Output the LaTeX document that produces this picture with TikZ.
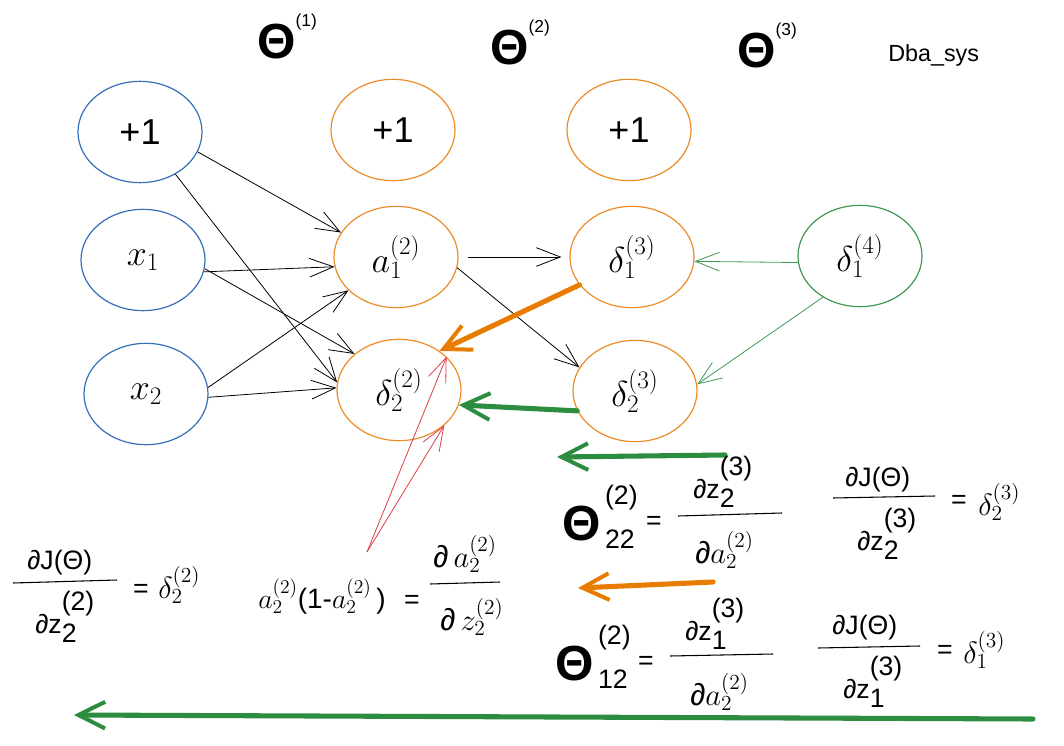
\documentclass[tikz,border=0pt]{standalone}
\usepackage{fix-cm}
\usepackage{fontspec}
\setmainfont{Liberation Sans}
\usetikzlibrary{arrows.meta,shapes.geometric}
\definecolor{inblue}{RGB}{52,112,186}
\definecolor{hidorange}{RGB}{236,140,40}
\definecolor{bporange}{RGB}{232,124,0}
\definecolor{outgreen}{RGB}{64,152,84}
\definecolor{bpgreen}{RGB}{44,140,64}
\definecolor{gradred}{RGB}{222,60,70}
\newcommand{\zz}[3]{#1\rlap{\raisebox{17pt}{#2}}\raisebox{-7pt}{#3}}
\newcommand{\thetaidx}[2]{{\fontsize{37}{37}\selectfont\bfseries Θ}\,\rlap{\raisebox{27pt}{#1}}\raisebox{-6pt}{#2}}
\newcommand{\layertheta}[1]{{\fontsize{37}{37}\selectfont\bfseries Θ}\raisebox{24pt}{\fontsize{13}{13}\selectfont(#1)}}

\begin{document}
\begin{tikzpicture}[
  x=0.75pt, y=-0.75pt,
  neuron/.style={ellipse, draw, line width=0.9pt, minimum width=93pt, minimum height=76pt, inner sep=0pt, font=\fontsize{27}{27}\selectfont},
  conn/.style={-{Straight Barb[length=18pt,width=14pt]}, line width=0.6pt},
  bp/.style={-{Straight Barb[length=20pt,width=20pt,line width=3pt]}, line width=3.8pt, line cap=round},
  ftxt/.style={font=\fontsize{20}{20}\selectfont, inner sep=0pt},
  hw/.style={font=\fontsize{23}{23}\selectfont, inner sep=0pt},
  fbar/.style={line width=0.8pt}
]
\useasboundingbox (0,0) rectangle (1064,746);

\node[ftxt, anchor=base west] (th1) at (257,58) {\layertheta{1}};
\node[ftxt, anchor=base west] (th2) at (490,64) {\layertheta{2}};
\node[ftxt, anchor=base west] (th3) at (737,67) {\layertheta{3}};
\node[anchor=base west, inner sep=0pt, font=\fontsize{17.5}{17.5}\selectfont] (tag) at (888,61) {Dba\_sys};

\node[neuron, draw=inblue] (in1) at (140,132) {+1};
\node[neuron, draw=inblue] (x1) at (143,260) {$x_1$};
\node[neuron, draw=inblue] (x2) at (146,394) {$x_2$};
\node[neuron, draw=hidorange] (h1) at (393,130) {+1};
\node[neuron, draw=hidorange] (a1) at (396,257) {$a^{(2)}_1$};
\node[neuron, draw=hidorange] (d22) at (399,390) {$\delta^{(2)}_2$};
\node[neuron, draw=hidorange] (h2) at (629,130) {+1};
\node[neuron, draw=hidorange] (d13) at (632,257) {$\delta^{(3)}_1$};
\node[neuron, draw=hidorange] (d23) at (635,391) {$\delta^{(3)}_2$};
\node[neuron, draw=outgreen] (d14) at (860,256) {$\delta^{(4)}_1$};

\draw[conn] (in1.-19) -- (a1.156);
\draw[conn] (in1.-50) -- (d22.173);
\draw[conn] (x1.-11) -- (a1.-171);
\draw[conn] (x1.-8) -- (d22.141);
\draw[conn] (x2.6) -- (a1.-145);
\draw[conn] (x2.-3) -- (d22.178);
\draw[conn, shorten <=7pt, shorten >=6pt] (a1.east) -- (d13.west);
\draw[conn] (a1.-10) -- (d23.157);
\draw[conn, outgreen] (d14.186) -- (d13.-4);
\draw[conn, outgreen] (d14.-132) -- (d23.6);
\draw[bp, bporange] (d13.208) -- (d22.44);
\draw[bp, bpgreen] (d23.199) -- (d22.-14);

\coordinate (rs) at (367,552);
\draw[conn, gradred] (rs) -- (d22.35);
\draw[conn, gradred] (rs) -- (d22.-38);

\coordinate (g1s) at (725,455);
\coordinate (g1e) at (557,457);
\coordinate (o1s) at (713,582);
\coordinate (o1e) at (578,588);
\coordinate (g2s) at (1033,719);
\coordinate (g2e) at (74,715);
\draw[bp, bpgreen] (g1s) -- (g1e);
\draw[bp, bporange] (o1s) -- (o1e);
\draw[bp, bpgreen] (g2s) -- (g2e);

% dJ/dz at layer 2
\node[ftxt, anchor=base west] (lnum) at (27,569) {∂J(Θ)};
\draw[fbar] (13,583) -- (117,580);
\node[ftxt, anchor=base west] (lden) at (35,633) {\zz{∂z}{(2)}{2}};
\node[ftxt] (leq) at (141,591) {=};
\node[hw, anchor=base west] (ldel) at (158,598) {$\delta^{(2)}_2$};

% sigmoid derivative
\node[hw, anchor=base west, font=\fontsize{21}{21}\selectfont] (sig) at (258,608) {$a^{(2)}_2$(1-$a^{(2)}_2$\,)};
\node[ftxt] (seq) at (412,602) {=};
\node[hw, anchor=base west] (snum) at (433,567) {∂\,$a^{(2)}_2$};
\draw[fbar] (430,584) -- (500,582);
\node[hw, anchor=base west] (sden) at (440,630) {∂\,$z^{(2)}_2$};

% theta 22
\node[ftxt, anchor=base west] (t22) at (562,540) {\thetaidx{(2)}{22}};
\node[ftxt] (t22eq) at (654,523) {=};
\node[ftxt, anchor=base west] (t22num) at (693,498) {\zz{∂z}{(3)}{2}};
\draw[fbar] (678,516) -- (782,513);
\node[hw, anchor=base west] (t22den) at (695,563) {∂$a^{(2)}_2$};
\node[ftxt, anchor=base west] (j22num) at (845,486) {∂J(Θ)};
\draw[fbar] (833,498) -- (935,496);
\node[ftxt, anchor=base west] (j22den) at (857,550) {\zz{∂z}{(3)}{2}};
\node[ftxt] (j22eq) at (959,502) {=};
\node[hw, anchor=base west] (j22del) at (978,515) {$\delta^{(3)}_2$};

% theta 12
\node[ftxt, anchor=base west] (t12) at (555,680) {\thetaidx{(2)}{12}};
\node[ftxt] (t12eq) at (646,663) {=};
\node[ftxt, anchor=base west] (t12num) at (685,640) {\zz{∂z}{(3)}{1}};
\draw[fbar] (670,656) -- (773,654);
\node[hw, anchor=base west] (t12den) at (690,705) {∂$a^{(2)}_2$};
\node[ftxt, anchor=base west] (j12num) at (832,634) {∂J(Θ)};
\draw[fbar] (818,648) -- (920,646);
\node[ftxt, anchor=base west] (j12den) at (843,698) {\zz{∂z}{(3)}{1}};
\node[ftxt] (j12eq) at (945,652) {=};
\node[hw, anchor=base west] (j12del) at (963,663) {$\delta^{(3)}_1$};
\end{tikzpicture}
\end{document}
